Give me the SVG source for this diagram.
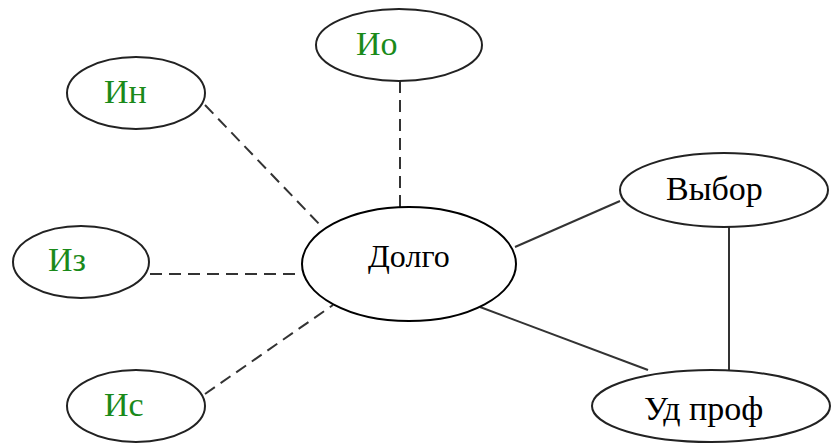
<svg xmlns="http://www.w3.org/2000/svg" width="832" height="443" viewBox="0 0 832 443">
<style>
.n{fill:#fff;stroke:#222;stroke-width:2}
.g{font-family:"Liberation Serif","Times New Roman",serif;font-size:34px;fill:#1a8a1a}
.b{font-family:"Liberation Serif","Times New Roman",serif;font-size:34px;fill:#000}
.t{font-family:"Liberation Serif","Times New Roman",serif;font-size:32px;fill:#000}
.c{stroke:#333;stroke-width:2;fill:none}
.d{stroke-dasharray:12 7}
</style>
<rect width="832" height="443" fill="#fff"/>
<g id="connectors">
<line class="c d" x1="400" y1="81" x2="400" y2="207"/>
<line class="c d" x1="205" y1="105" x2="323" y2="228"/>
<line class="c d" x1="150" y1="274" x2="302" y2="274"/>
<line class="c d" x1="205" y1="394" x2="333" y2="305"/>
<line class="c" x1="515" y1="247" x2="620" y2="201"/>
<line class="c" x1="480" y1="307" x2="648" y2="370"/>
<line class="c" x1="729" y1="227" x2="729" y2="370"/>
</g>
<g id="node-io"><ellipse class="n" cx="399" cy="45" rx="83" ry="36"/><text class="g" x="356" y="55">Ио</text></g>
<g id="node-in"><ellipse class="n" cx="136" cy="93" rx="69" ry="36"/><text class="g" x="104" y="103">Ин</text></g>
<g id="node-iz"><ellipse class="n" cx="81" cy="262" rx="68" ry="36"/><text class="g" x="48" y="271">Из</text></g>
<g id="node-is"><ellipse class="n" cx="136" cy="406" rx="69" ry="36"/><text class="g" x="104" y="416">Ис</text></g>
<g id="node-dolgo"><ellipse class="n" cx="409" cy="264" rx="107" ry="57" style="stroke:#000"/><text class="t" x="368" y="267">Долго</text></g>
<g id="node-vybor"><ellipse class="n" cx="724" cy="190" rx="104" ry="37"/><text class="b" x="666" y="200">Выбор</text></g>
<g id="node-udprof"><ellipse class="n" cx="711" cy="406" rx="119" ry="36"/><text class="b" x="644" y="420">Уд проф</text></g>
</svg>
